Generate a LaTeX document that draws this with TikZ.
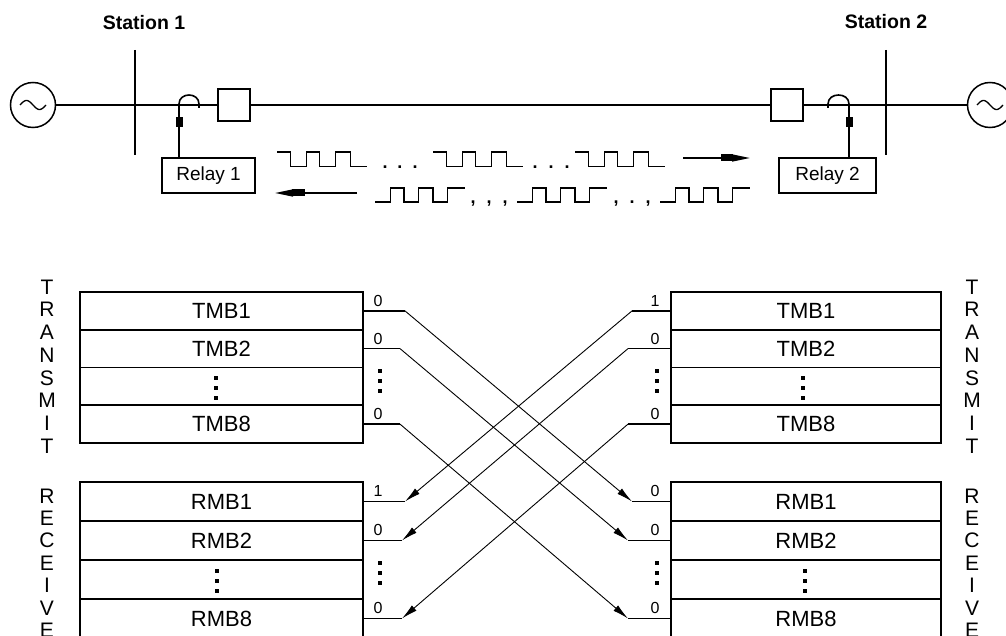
\documentclass[tikz,border=0pt]{standalone}
\usepackage{fontspec}
\setmainfont{Liberation Sans}
\usetikzlibrary{arrows.meta}
\begin{document}
\begin{tikzpicture}[x=1pt,y=-1pt,
  heavy/.style={line width=1.6pt},
  rowbox/.style={draw, line width=1.5pt, inner sep=0pt, minimum height=37.75pt, font=\fontsize{22}{22}\selectfont},
  rrowbox/.style={draw, line width=1.5pt, inner sep=0pt, minimum height=39pt, font=\fontsize{22}{22}\selectfont},
  bitlbl/.style={font=\fontsize{16}{16}\selectfont, inner sep=0pt, anchor=south},
  hconn/.style={line width=1.3pt},
  diagarrow/.style={line width=0.9pt, -{Latex[length=16pt,width=7pt]}},
  sidelbl/.style={align=center, inner sep=0pt, font=\fontsize{21}{22.7}\selectfont},
  sidelblr/.style={align=center, inner sep=0pt, font=\fontsize{21}{22.4}\selectfont},
  gen/.style={circle, draw, line width=1.5pt, minimum size=45pt, inner sep=0pt},
  brk/.style={draw, line width=1.5pt, minimum size=32pt, inner sep=0pt},
  relaybox/.style={draw, line width=1.5pt, minimum height=35pt, inner sep=0pt, font=\fontsize{19}{19}\selectfont},
  stationlbl/.style={font=\bfseries\fontsize{19.5}{19.5}\selectfont, inner sep=0pt},
  dotslbl/.style={font=\bfseries\fontsize{18}{18}\selectfont, inner sep=0pt, anchor=base},
  vdotspic/.pic={\fill (-1.8,-12) rectangle (1.8,-8); \fill (-1.8,-2) rectangle (1.8,2); \fill (-1.8,8) rectangle (1.8,12);},
  toppulse/.pic={\draw[line width=1.5pt] (0,0) -- (13.5,0) -- (13.5,14.5) -- (29.5,14.5) -- (29.5,0) -- (42.5,0) -- (42.5,14.5) -- (58.5,14.5) -- (58.5,0) -- (73.5,0) -- (73.5,14.5) -- (89.5,14.5);},
  botpulse/.pic={\draw[line width=1.5pt] (0,0) -- (15.5,0) -- (15.5,-14) -- (29,-14) -- (29,0) -- (43.5,0) -- (43.5,-14) -- (58,-14) -- (58,0) -- (72.5,0) -- (72.5,-14) -- (90,-14);},
]
\path[clip] (0,0) rectangle (1006,636);
\fill[white] (0,0) rectangle (1006,636);

% ---------------- top: one-line diagram ----------------
\node[stationlbl] (st1) at (144,23) {Station 1};
\node[stationlbl] (st2) at (886,22) {Station 2};

\node[gen] (gen1) at (33,105) {};
\node[gen] (gen2) at (990,105) {};
\draw[line width=1.3pt, shift={(33,105)}] plot[domain=-13:13, samples=40, smooth] (\x,{4.5*sin(\x*180/13)});
\draw[line width=1.3pt, shift={(990,105)}] plot[domain=-13:13, samples=40, smooth] (\x,{4.5*sin(\x*180/13)});

\node[brk] (brk1) at (234,105) {};
\node[brk] (brk2) at (787,105) {};

\draw[heavy] (gen1.east) -- (brk1.west);
\draw[heavy] (brk1.east) -- (brk2.west);
\draw[heavy] (brk2.east) -- (gen2.west);

\coordinate (bus1t) at (135,50); \coordinate (bus1b) at (135,155);
\coordinate (bus2t) at (886,50); \coordinate (bus2b) at (886,155);
\draw[heavy] (bus1t) -- (bus1b);
\draw[heavy] (bus2t) -- (bus2b);

\node[relaybox, minimum width=93pt] (relay1) at (208.5,175.5) {Relay 1};
\node[relaybox, minimum width=97pt] (relay2) at (827.5,175.5) {Relay 2};

\coordinate (ct1) at (179,104);
\coordinate (ct2) at (849,104);
\draw[heavy] (relay1.north -| ct1) -- (ct1) .. controls (179,92) and (199,92) .. (199,104) -- (199,108);
\draw[heavy] (relay2.north -| ct2) -- (ct2) .. controls (849,92) and (828,92) .. (828,104) -- (828,108);
\fill (175.5,117) rectangle (182.5,127);
\fill (845.5,117) rectangle (852.5,127);

% pulse trains
\pic at (277,152) {toppulse};
\pic at (433,152) {toppulse};
\pic at (575,152) {toppulse};
\node[dotslbl] (d1) at (400,168.5) {.\hspace{10pt}.\hspace{10pt}.};
\node[dotslbl] (d2) at (551,168.5) {.\hspace{11pt}.\hspace{11pt}.};

\pic at (375,202) {botpulse};
\pic at (517,202) {botpulse};
\pic at (660,202) {botpulse};
\node[dotslbl] (c1) at (489,203.5) {,\hspace{11pt},\hspace{11pt},};
\node[dotslbl] (c2) at (632,203.5) {,\hspace{11pt}.\hspace{11pt},};

\coordinate (pa1s) at (683,158); \coordinate (pa1e) at (750,158);
\draw[line width=1.5pt, -{Triangle[length=18pt,width=7pt]}] (pa1s) -- (pa1e);
\draw[line width=7pt] (721,158) -- (733,158);
\coordinate (pa2s) at (357,193); \coordinate (pa2e) at (275,193);
\draw[line width=1.5pt, -{Triangle[length=18pt,width=7pt]}] (pa2s) -- (pa2e);
\draw[line width=7pt] (292,193) -- (305,193);

% ---------------- bottom: mirrored bits ----------------
\node[sidelbl] (ltx) at (47,366.5) {T\\R\\A\\N\\S\\M\\I\\T};
\node[sidelblr] (lrx) at (47,563) {R\\E\\C\\E\\I\\V\\E};
\node[sidelbl] (rtx) at (972,366.5) {T\\R\\A\\N\\S\\M\\I\\T};
\node[sidelblr] (rrx) at (972,563) {R\\E\\C\\E\\I\\V\\E};

% left tables
\node[rowbox, minimum width=283pt] (LT1) at (221.5,310.9) {TMB1};
\node[rowbox, minimum width=283pt] (LT2) at (221.5,348.6) {TMB2};
\node[rowbox, minimum width=283pt] (LT3) at (221.5,386.4) {};
\node[rowbox, minimum width=283pt] (LT8) at (221.5,424.1) {TMB8};
\node[rrowbox, minimum width=283pt] (LR1) at (221.5,501.5) {RMB1};
\node[rrowbox, minimum width=283pt] (LR2) at (221.5,540.5) {RMB2};
\node[rrowbox, minimum width=283pt] (LR3) at (221.5,579.5) {};
\node[rrowbox, minimum width=283pt] (LR8) at (221.5,618.5) {RMB8};
\pic at (216,387.5) {vdotspic};
\pic at (217,581) {vdotspic};

% right tables
\node[rowbox, minimum width=270pt] (RT1) at (806,310.9) {TMB1};
\node[rowbox, minimum width=270pt] (RT2) at (806,348.6) {TMB2};
\node[rowbox, minimum width=270pt] (RT3) at (806,386.4) {};
\node[rowbox, minimum width=270pt] (RT8) at (806,424.1) {TMB8};
\node[rrowbox, minimum width=270pt] (RR1) at (806,501.5) {RMB1};
\node[rrowbox, minimum width=270pt] (RR2) at (806,540.5) {RMB2};
\node[rrowbox, minimum width=270pt] (RR3) at (806,579.5) {};
\node[rrowbox, minimum width=270pt] (RR8) at (806,618.5) {RMB8};
\pic at (803,387.5) {vdotspic};
\pic at (805,581) {vdotspic};

% bit labels left
\node[bitlbl] (bLT1) at (378,306.5) {0};
\node[bitlbl] (bLT2) at (378,344.5) {0};
\pic at (380,381) {vdotspic};
\node[bitlbl] (bLT8) at (378,420) {0};
\node[bitlbl] (bLR1) at (378,497) {1};
\node[bitlbl] (bLR2) at (378,536) {0};
\pic at (380,572.5) {vdotspic};
\node[bitlbl] (bLR8) at (378,614) {0};
% bit labels right
\node[bitlbl] (bRT1) at (655,306.5) {1};
\node[bitlbl] (bRT2) at (655,344.5) {0};
\pic at (657,381) {vdotspic};
\node[bitlbl] (bRT8) at (655,420) {0};
\node[bitlbl] (bRR1) at (655,497) {0};
\node[bitlbl] (bRR2) at (655,536) {0};
\pic at (657,572.5) {vdotspic};
\node[bitlbl] (bRR8) at (655,614) {0};

% kink coordinates
\coordinate (kLT1) at (405,310.9);
\coordinate (kLT2) at (400,348.6);
\coordinate (kLT8) at (400,424.1);
\coordinate (kLR1) at (405,501.5);
\coordinate (kLR2) at (402,540.5);
\coordinate (kLR8) at (402,618.5);
\coordinate (kRT1) at (632,310.9);
\coordinate (kRT2) at (628,348.6);
\coordinate (kRT8) at (628,424.1);
\coordinate (kRR1) at (632,501.5);
\coordinate (kRR2) at (628,540.5);
\coordinate (kRR8) at (628,618.5);

% left transmit -> right receive
\draw[hconn] (LT1.east) -- (kLT1);
\draw[diagarrow] (kLT1) -- (kRR1);
\draw[hconn] (kRR1) -- (RR1.west);
\draw[hconn] (LT2.east) -- (kLT2);
\draw[diagarrow] (kLT2) -- (kRR2);
\draw[hconn] (kRR2) -- (RR2.west);
\draw[hconn] (LT8.east) -- (kLT8);
\draw[diagarrow] (kLT8) -- (kRR8);
\draw[hconn] (kRR8) -- (RR8.west);
% right transmit -> left receive
\draw[hconn] (RT1.west) -- (kRT1);
\draw[diagarrow] (kRT1) -- (kLR1);
\draw[hconn] (kLR1) -- (LR1.east);
\draw[hconn] (RT2.west) -- (kRT2);
\draw[diagarrow] (kRT2) -- (kLR2);
\draw[hconn] (kLR2) -- (LR2.east);
\draw[hconn] (RT8.west) -- (kRT8);
\draw[diagarrow] (kRT8) -- (kLR8);
\draw[hconn] (kLR8) -- (LR8.east);
\end{tikzpicture}
\end{document}
